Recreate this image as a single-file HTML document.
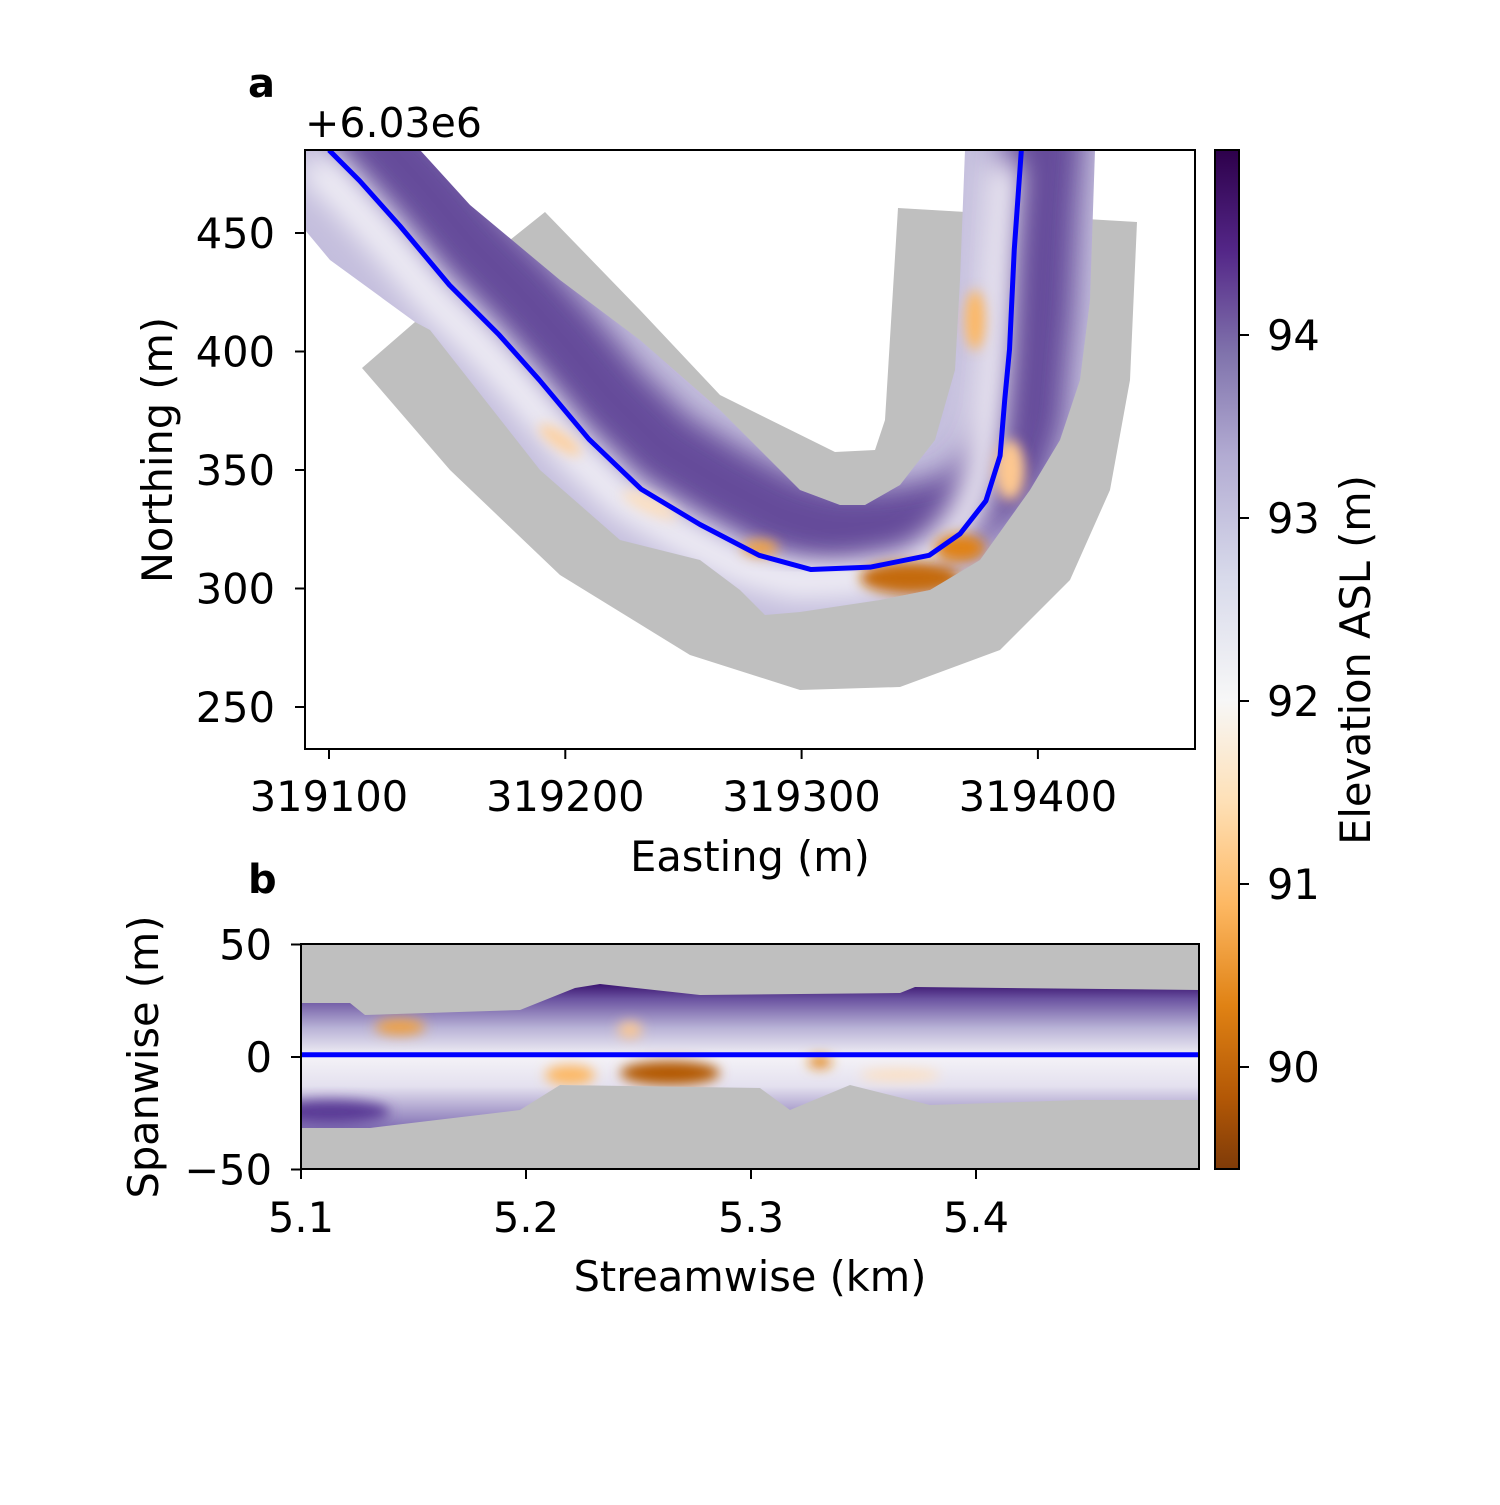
<!DOCTYPE html>
<html><head><meta charset="utf-8"><style>
body{margin:0;background:#fff}
svg text{font-family:"DejaVu Sans","Liberation Sans",sans-serif;fill:#000}
</style></head><body>
<svg id="fig" width="1500" height="1500" viewBox="0 0 1500 1500" xmlns="http://www.w3.org/2000/svg">
<defs>
<clipPath id="clipA"><rect x="305" y="150" width="890" height="599"/></clipPath>
<clipPath id="clipB"><rect x="301" y="944" width="898" height="225"/></clipPath>
<clipPath id="dataA"><polygon points="305,150 420,150 470,205 560,280 640,340 720,410 800,490 840,505 865,505 900,485 935,440 955,370 960,280 965,150 1095,150 1090,300 1080,380 1060,440 1030,490 980,560 930,590 880,600 800,612 765,615 740,590 700,560 620,540 540,470 430,330 415,322 330,260 305,230"/></clipPath>
<clipPath id="dataB"><polygon points="301,1003 350,1003 365,1015 520,1010 575,988 600,984 700,995 900,993 915,987 1199,990 1199,1100 1080,1100 930,1105 850,1085 790,1110 760,1088 560,1085 520,1110 370,1128 301,1128"/></clipPath>
<linearGradient id="cbar" x1="0" y1="0" x2="0" y2="1">
<stop offset="0" stop-color="#2d004b"/><stop offset="0.1" stop-color="#542788"/><stop offset="0.2" stop-color="#8073ac"/><stop offset="0.3" stop-color="#b2abd2"/><stop offset="0.42" stop-color="#d8daeb"/><stop offset="0.54" stop-color="#f7f7f7"/><stop offset="0.64" stop-color="#fee0b6"/><stop offset="0.74" stop-color="#fdb863"/><stop offset="0.84" stop-color="#e08214"/><stop offset="0.93" stop-color="#b35806"/><stop offset="1" stop-color="#7f3b08"/>
</linearGradient>
<linearGradient id="bgrad" x1="0" y1="0" x2="0" y2="1">
<stop offset="0" stop-color="#3b1470"/><stop offset="0.1" stop-color="#6a52a0"/><stop offset="0.3" stop-color="#b8b2d6"/><stop offset="0.5" stop-color="#f4f2f7"/><stop offset="0.7" stop-color="#e4e1ef"/><stop offset="1" stop-color="#7e6cb2"/>
</linearGradient>
<filter id="blur"><feGaussianBlur stdDeviation="14"/></filter>
<filter id="blur2"><feGaussianBlur stdDeviation="6"/></filter>
</defs>

<!-- Panel a -->
<g clip-path="url(#clipA)">
<polygon fill="#bfbfbf" points="362,368 415,322 510,240 545,212 640,310 720,395 835,452 875,450 885,420 898,208 1137,222 1130,380 1110,490 1070,580 1000,650 900,687 800,690 690,655 560,575 450,470"/>
<g clip-path="url(#dataA)">
<rect x="305" y="150" width="890" height="600" fill="#c4bedd"/>
<path id="darkband" d="" fill="none" stroke="#55388f" stroke-width="80" filter="url(#blur)" opacity="0.85"/>
<path id="lightband" d="" fill="none" stroke="#f3f1f7" stroke-width="34" filter="url(#blur)"/>
<g filter="url(#blur2)">
<ellipse cx="975" cy="320" rx="10" ry="30" fill="#fdb863"/>
<ellipse cx="910" cy="578" rx="50" ry="16" fill="#c46a10"/>
<ellipse cx="960" cy="548" rx="25" ry="14" fill="#e08214"/>
<ellipse cx="760" cy="548" rx="18" ry="8" fill="#f0a040"/>
<ellipse cx="560" cy="440" rx="25" ry="8" fill="#fdd0a0" transform="rotate(35 560 440)"/>
<ellipse cx="1010" cy="470" rx="15" ry="30" fill="#fdc890"/>
<ellipse cx="650" cy="505" rx="30" ry="8" fill="#fde0c0" transform="rotate(25 650 505)"/>
</g>
</g>
<polyline id="centerA" fill="none" stroke="#0000ff" stroke-width="5" stroke-linejoin="round"/>
</g>
<rect x="305" y="150" width="890" height="599" fill="none" stroke="#000" stroke-width="2"/>
<g id="axA"></g>
<text x="248" y="97" font-size="40" font-weight="bold">a</text>
<text x="305" y="137" font-size="41">+6.03e6</text>
<text x="750" y="871" font-size="41.5" text-anchor="middle">Easting (m)</text>
<text transform="translate(172,450) rotate(-90)" font-size="41.5" text-anchor="middle">Northing (m)</text>

<!-- Panel b -->
<g clip-path="url(#clipB)">
<rect x="301" y="944" width="898" height="225" fill="#bfbfbf"/>
<g clip-path="url(#dataB)">
<rect x="301" y="984" width="898" height="146" fill="url(#bgrad)"/>
<g filter="url(#blur2)">
<ellipse cx="400" cy="1027" rx="25" ry="8" fill="#f0a040"/>
<ellipse cx="670" cy="1073" rx="50" ry="12" fill="#b35806"/>
<ellipse cx="570" cy="1075" rx="25" ry="10" fill="#fdb863"/>
<ellipse cx="820" cy="1062" rx="12" ry="6" fill="#e08214"/>
<ellipse cx="630" cy="1030" rx="12" ry="8" fill="#fdc890"/>
<ellipse cx="900" cy="1075" rx="40" ry="6" fill="#fde0c0"/>
<ellipse cx="330" cy="1112" rx="60" ry="12" fill="#5a3a96"/>
</g>
</g>
<polyline id="centerB" fill="none" stroke="#0000ff" stroke-width="5"/>
</g>
<rect x="301" y="944" width="898" height="225" fill="none" stroke="#000" stroke-width="2"/>
<g id="axB"></g>
<text x="248" y="893" font-size="40" font-weight="bold">b</text>
<text x="750" y="1291" font-size="41.5" text-anchor="middle">Streamwise (km)</text>
<text transform="translate(158,1057) rotate(-90)" font-size="41.5" text-anchor="middle">Spanwise (m)</text>

<!-- Colorbar -->
<rect x="1215" y="150" width="24" height="1019" fill="url(#cbar)" stroke="#000" stroke-width="2"/>
<g id="axC"></g>
<text transform="translate(1370,660) rotate(-90)" font-size="41.5" text-anchor="middle">Elevation ASL (m)</text>
</svg>
<script>
const centerEasting=[319100,319113,319130,319151,319172,319189,319210,319232,319257,319282,319304,319329,319354,319367,319378,319384,319386,319388,319390,319393];
const centerNorthing=[485,472,453,428,407,388,363,342,327,314,308,309,314,323,337,356,380,401,443,485];
const xTicksA=[319100,319200,319300,319400];
const yTicksA=[250,300,350,400,450];
const streamX=[5.1,5.5];
const spanY=[1,1];
const xTicksB=[5.1,5.2,5.3,5.4];
const xTickLabelsB=["5.1","5.2","5.3","5.4"];
const yTicksB=[-50,0,50];
const yTickLabelsB=["\u221250","0","50"];
const cTicks=[90,91,92,93,94];

const xA=v=>329+(v-319100)*2.363;
const yA=v=>233-(v-450)*2.37;
const xB=v=>301+(v-5.1)*2250;
const yB=v=>1057-v*2.25;
const yC=v=>1067-(v-90)*183;
const NS="http://www.w3.org/2000/svg";
function mk(tag,attrs,parent,txt){const e=document.createElementNS(NS,tag);for(const k in attrs)e.setAttribute(k,attrs[k]);if(txt!==undefined)e.textContent=txt;parent.appendChild(e);return e;}

const pts=centerEasting.map((e,i)=>xA(e)+","+yA(centerNorthing[i])).join(" ");
document.getElementById('centerA').setAttribute('points',pts);
const dpath="M"+centerEasting.map((e,i)=>(xA(e)+24)+","+(yA(centerNorthing[i])-40)).join(" L");
document.getElementById('darkband').setAttribute('d',dpath);
const lpath="M"+centerEasting.map((e,i)=>(xA(e)-18)+","+(yA(centerNorthing[i])+12)).join(" L");
document.getElementById('lightband').setAttribute('d',lpath);
document.getElementById('centerB').setAttribute('points',streamX.map((s,i)=>xB(s)+","+yB(spanY[i])).join(" "));

const FS=41.5;
const axA=document.getElementById('axA');
xTicksA.forEach(t=>{const x=xA(t);
const l=mk('line',{x1:x,x2:x,y1:749,y2:759,stroke:'#000','stroke-width':2},axA);

const tx=mk('text',{x:x,y:811,'font-size':FS,'text-anchor':'middle'},axA,String(t));
});
yTicksA.forEach(t=>{const y=yA(t);
const l=mk('line',{x1:295,x2:305,y1:y,y2:y,stroke:'#000','stroke-width':2},axA);

const tx=mk('text',{x:275,y:y+15,'font-size':FS,'text-anchor':'end'},axA,String(t));
});

const axB=document.getElementById('axB');
xTicksB.forEach((t,i)=>{const x=xB(t);
const l=mk('line',{x1:x,x2:x,y1:1169,y2:1179,stroke:'#000','stroke-width':2},axB);

const tx=mk('text',{x:x,y:1232,'font-size':FS,'text-anchor':'middle'},axB,xTickLabelsB[i]);
});
yTicksB.forEach((t,i)=>{const y=yB(t);
const l=mk('line',{x1:291,x2:301,y1:y,y2:y,stroke:'#000','stroke-width':2},axB);

const tx=mk('text',{x:272,y:y+15,'font-size':FS,'text-anchor':'end'},axB,yTickLabelsB[i]);
});

const axC=document.getElementById('axC');
cTicks.forEach(t=>{const y=yC(t);
const l=mk('line',{x1:1239,x2:1249,y1:y,y2:y,stroke:'#000','stroke-width':2},axC);

const tx=mk('text',{x:1267,y:y+15,'font-size':FS},axC,String(t));
});
</script>
</body></html>
